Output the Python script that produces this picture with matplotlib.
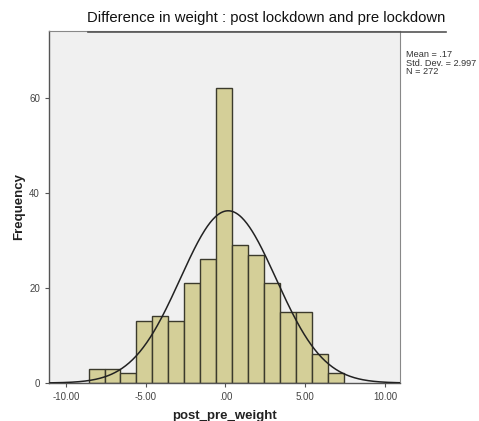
import numpy as np
import matplotlib
matplotlib.use("Agg")
import matplotlib.pyplot as plt
from matplotlib.lines import Line2D

plt.rcParams['font.family'] = ['Liberation Sans', 'DejaVu Sans']

# Data
bin_edges = [-8.58, -7.58, -6.58, -5.58, -4.58, -3.58, -2.58, -1.58, -0.58,
             0.42, 1.42, 2.42, 3.42, 4.42, 5.42, 6.42, 7.42]
counts = [3, 3, 2, 13, 14, 13, 21, 26, 62, 29, 27, 21, 15, 15, 6, 2]
mean_val = 0.17
std_val = 2.997
n_val = 272
x_ticks = [-10, -5, 0, 5, 10]
x_tick_labels = ["-10.00", "-5.00", ".00", "5.00", "10.00"]
y_ticks = [0, 20, 40, 60]
title = "Difference in weight : post lockdown and pre lockdown"

fig = plt.figure(figsize=(4.79, 4.21), dpi=100)
ax = fig.add_axes([49/479, 38/421, (400-49)/479, (383-31)/421])
ax.set_facecolor('#f0f0f0')

edges = np.array(bin_edges)
widths = np.diff(edges)
ax.bar(edges[:-1], counts, width=widths, align='edge',
       color='#d4cf98', edgecolor='#3b3a2c', linewidth=1.0, zorder=2)

bw = widths[0]
xs = np.linspace(-11, 11, 400)
ys = n_val * bw / (std_val * np.sqrt(2*np.pi)) * np.exp(-0.5*((xs-mean_val)/std_val)**2)
ax.plot(xs, ys, color='#222222', linewidth=1.1, zorder=3)

ax.set_xlim(-11.06, 10.94)
ax.set_ylim(0, 74)
ax.set_xticks(x_ticks)
ax.set_xticklabels(x_tick_labels)
ax.set_yticks(y_ticks)
ax.tick_params(axis='both', labelsize=7, colors='#555555', length=3, width=0.8)
for lab in ax.get_xticklabels() + ax.get_yticklabels():
    lab.set_color('#444444')

for s in ['left', 'bottom']:
    ax.spines[s].set_color('#555555')
    ax.spines[s].set_linewidth(1.0)
for s in ['top', 'right']:
    ax.spines[s].set_color('#888888')
    ax.spines[s].set_linewidth(0.8)

ax.set_xlabel("post_pre_weight", fontsize=9.5, fontweight='bold', color='#222222', labelpad=6)
ax.set_ylabel("Frequency", fontsize=9.5, fontweight='bold', color='#222222', labelpad=3)

fig.text(266/479, 1 - 18/421, title, ha='center', va='center', fontsize=10.7, color='#111111')
fig.add_artist(Line2D([88/479, 446/479], [1 - 32/421, 1 - 32/421], color='#555555', linewidth=1.2))

fig.text(406/479, 1 - 50/421, "Mean = .17\nStd. Dev. = 2.997\nN = 272",
         ha='left', va='top', fontsize=6.6, color='#333333', linespacing=0.95)

fig.savefig("out.png", dpi=100, facecolor='white')
